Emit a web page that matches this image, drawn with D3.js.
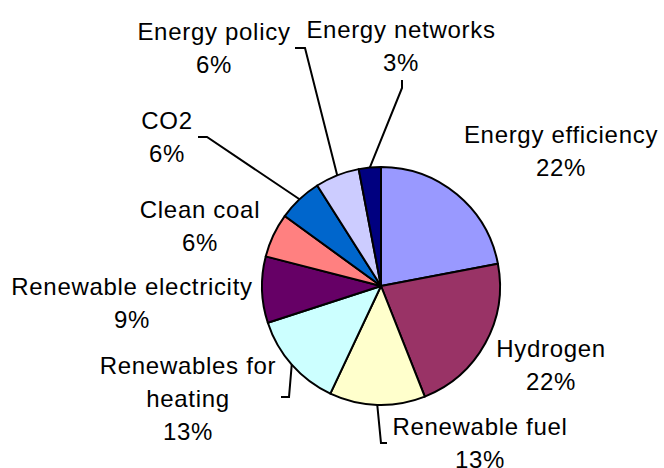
<!DOCTYPE html>
<html>
<head>
<meta charset="utf-8">
<script src="https://cdn.jsdelivr.net/npm/d3@7/dist/d3.min.js"></script>
<style>
  html, body { margin: 0; padding: 0; background: #fff; }
  svg { display: block; }
  text { font-family: "Liberation Sans", Arial, sans-serif; font-size: 24px; letter-spacing: 0.7px; fill: #000; }
</style>
</head>
<body>
<svg id="chart" width="664" height="468"></svg>
<script>
// Share of funding by research area (percent), clockwise from 12 o'clock
const categories = [
  "Energy efficiency", "Hydrogen", "Renewable fuel", "Renewables for heating",
  "Renewable electricity", "Clean coal", "CO2", "Energy policy", "Energy networks"
];
const shares = [22, 22, 13, 13, 9, 6, 6, 6, 3];
const sliceColors = [
  "#9999FF", "#993366", "#FFFFCC", "#CCFFFF",
  "#660066", "#FF8080", "#0066CC", "#CCCCFF", "#000080"
];

// Label placement: text lines, centre x, first baseline, and optional leader bend points
const labelLayout = [
  { lines: ["Energy efficiency"], x: 561, y: 143 },
  { lines: ["Hydrogen"], x: 551, y: 357 },
  { lines: ["Renewable fuel"], x: 480, y: 435, leader: [[381, 443], [387, 443]] },
  { lines: ["Renewables for", "heating"], x: 188, y: 374, leader: [[289, 397], [281, 397]] },
  { lines: ["Renewable electricity"], x: 132, y: 295 },
  { lines: ["Clean coal"], x: 200, y: 218 },
  { lines: ["CO2"], x: 167, y: 129, leader: [[207, 137], [198, 137]] },
  { lines: ["Energy policy"], x: 214, y: 40, leader: [[305, 48], [295, 48]] },
  { lines: ["Energy networks"], x: 401, y: 38, leader: [[402, 88], [402, 80]] }
];

const cx = 381, cy = 286, radius = 119, lineGap = 33;

const svg = d3.select("#chart");
const g = svg.append("g").attr("transform", `translate(${cx},${cy})`);

const pie = d3.pie().sort(null).value(d => d.value);
const data = categories.map((c, i) => ({ name: c, value: shares[i], color: sliceColors[i], layout: labelLayout[i] }));
const arcs = pie(data);

const arc = d3.arc().innerRadius(0).outerRadius(radius);

g.selectAll("path.slice")
  .data(arcs)
  .join("path")
  .attr("class", "slice")
  .attr("d", arc)
  .attr("fill", d => d.data.color)
  .attr("stroke", "#000")
  .attr("stroke-width", 2)
  .attr("stroke-linejoin", "round");

// Leader lines from the slice's outer edge to its label
const edgePoint = d => {
  const a = (d.startAngle + d.endAngle) / 2;
  return [cx + radius * Math.sin(a), cy - radius * Math.cos(a)];
};

svg.selectAll("path.leader")
  .data(arcs.filter(d => d.data.layout.leader))
  .join("path")
  .attr("class", "leader")
  .attr("d", d => d3.line()([edgePoint(d), ...d.data.layout.leader]))
  .attr("fill", "none")
  .attr("stroke", "#000")
  .attr("stroke-width", 2);

// Category name plus its percentage
const labels = svg.selectAll("text.label")
  .data(arcs)
  .join("text")
  .attr("class", "label")
  .attr("text-anchor", "middle");

labels.each(function(d) {
  const L = d.data.layout;
  const rows = [...L.lines, d3.format("d")(d.data.value) + "%"];
  d3.select(this).selectAll("tspan")
    .data(rows)
    .join("tspan")
    .attr("x", L.x)
    .attr("y", (r, i) => L.y + i * lineGap)
    .text(r => r);
});
</script>
</body>
</html>
